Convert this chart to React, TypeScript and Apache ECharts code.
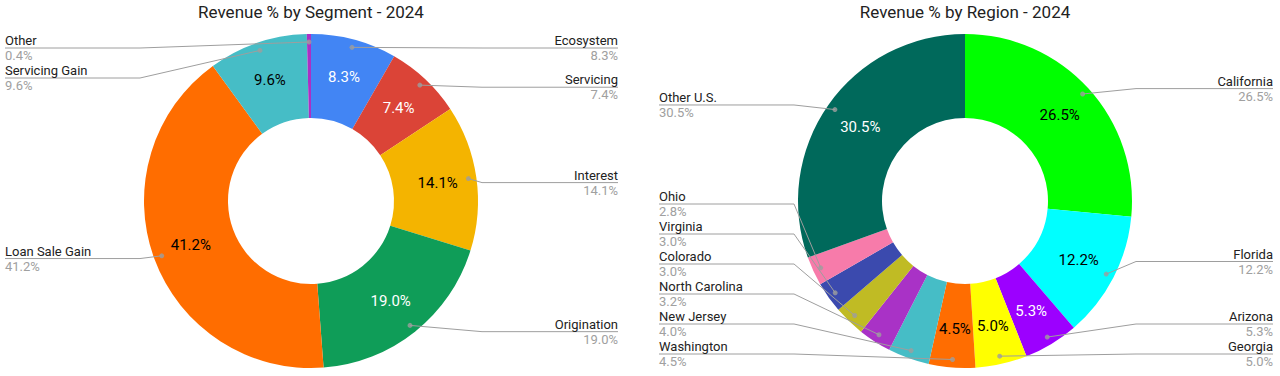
import React, { useEffect, useRef } from "react";
import * as echarts from "echarts";

// ---------- data ----------
const segmentTitle = "Revenue % by Segment - 2024";
const segmentNames = ["Ecosystem", "Servicing", "Interest", "Origination", "Loan Sale Gain", "Servicing Gain", "Other"];
const segmentValues = [8.3, 7.4, 14.1, 19.0, 41.2, 9.6, 0.4];

const regionTitle = "Revenue % by Region - 2024";
const regionNames = ["California", "Florida", "Arizona", "Georgia", "Washington", "New Jersey", "North Carolina", "Colorado", "Virginia", "Ohio", "Other U.S."];
const regionValues = [26.5, 12.2, 5.3, 5.0, 4.5, 4.0, 3.2, 3.0, 3.0, 2.8, 30.5];

// ---------- styles ----------
const segmentColors = ["#4285F4", "#DB4437", "#F4B400", "#0F9D58", "#FF6D00", "#46BDC6", "#AB30C4"];
const segmentLabelColors = ["#ffffff", "#ffffff", "#000000", "#ffffff", "#000000", "#000000", "#000000"];
const regionColors = ["#00FF00", "#00FFFF", "#9C00FF", "#FFFF00", "#FF6D01", "#46BDC6", "#A932C6", "#C0BB24", "#3B4AAE", "#F77BAA", "#00695B"];
const regionLabelColors = ["#000000", "#000000", "#ffffff", "#000000", "#000000", "#000000", "#000000", "#000000", "#ffffff", "#000000", "#ffffff"];

const FONT = "Roboto";
const R = 167;
const R0 = 83;
const DOT_R = 159;
const CY = 201;
const BOX_TOP = 33;
const BOX_H = 336;
const INSIDE_MIN = 4.5;
const LINE = "#9e9e9e";

type Cfg = {
  names: string[];
  values: number[];
  colors: string[];
  labelColors: string[];
  boxLeft: number;
  boxWidth: number;
  cx: number;
  edge: number;
};

function buildSeries(idx: number, c: Cfg) {
  const total = c.values.reduce((a, b) => a + b, 0);
  const mids: number[] = [];
  let acc = 0;
  c.values.forEach((v) => {
    mids.push(acc + v / 2);
    acc += v;
  });
  const donut = {
    type: "pie",
    z: 2,
    left: c.boxLeft,
    top: BOX_TOP,
    width: c.boxWidth,
    height: BOX_H,
    center: [c.cx - c.boxLeft, CY - BOX_TOP],
    radius: [R0, R],
    startAngle: 90,
    clockwise: true,
    silent: true,
    avoidLabelOverlap: false,
    emphasis: { disabled: true },
    label: {
      position: "inside",
      fontSize: 15,
      fontFamily: FONT,
      formatter: (p: any) => p.value.toFixed(1) + "%",
    },
    labelLine: { show: false },
    data: c.names.map((n, k) => ({
      name: n,
      value: c.values[k],
      itemStyle: { color: c.colors[k] },
      label: { show: c.values[k] >= INSIDE_MIN, color: c.labelColors[k] },
    })),
  };
  const outer = {
    type: "pie",
    z: 3,
    left: c.boxLeft,
    top: BOX_TOP,
    width: c.boxWidth,
    height: BOX_H,
    center: [c.cx - c.boxLeft, CY - BOX_TOP],
    radius: [0, DOT_R],
    startAngle: 90,
    clockwise: true,
    silent: true,
    emphasis: { disabled: true },
    itemStyle: { color: "rgba(0,0,0,0)" },
    label: {
      position: "outer",
      alignTo: "edge",
      edgeDistance: c.edge,
      fontFamily: FONT,
      formatter: (p: any) => `{n|${p.name}}\n{v|${p.value.toFixed(1)}%}`,
      rich: {
        n: { fontSize: 13, fontFamily: FONT, color: "#222222", lineHeight: 15 },
        v: { fontSize: 13, fontFamily: FONT, color: "#a0a0a0", lineHeight: 15 },
      },
    },
    labelLine: { show: true, length: 8, length2: 8, lineStyle: { color: LINE, width: 1 } },
    labelLayout: (p: any) => {
      const pts = p.labelLinePoints;
      if (!pts || pts.length < 3) return {};
      const rect = p.labelRect;
      const isLeft = rect.x + rect.width / 2 < c.cx;
      const y = rect.y + rect.height / 2;
      const elbowX = isLeft ? c.cx - R - 4 : c.cx + R + 4;
      const endX = isLeft ? rect.x : rect.x + rect.width;
      return { labelLinePoints: [pts[0], [elbowX, y], [endX, y]] };
    },
    data: c.names.map((n, k) => ({ name: n, value: c.values[k] })),
  };
  const dots = {
    type: "scatter",
    coordinateSystem: "polar",
    polarIndex: idx,
    z: 4,
    silent: true,
    symbolSize: 5,
    itemStyle: { color: LINE },
    data: mids.map((m) => [DOT_R, m]),
  };
  const polar = { center: [c.cx, CY], radius: R };
  const angleAxis = { polarIndex: idx, type: "value", min: 0, max: total, startAngle: 90, clockwise: true, show: false };
  const radiusAxis = { polarIndex: idx, type: "value", min: 0, max: R, show: false };
  return { series: [donut, outer, dots], polar, angleAxis, radiusAxis };
}

export default function App() {
  const ref = useRef<HTMLDivElement>(null);
  useEffect(() => {
    if (!ref.current) return;
    const chart = echarts.init(ref.current, null, { renderer: "svg" });
    const left = buildSeries(0, {
      names: segmentNames,
      values: segmentValues,
      colors: segmentColors,
      labelColors: segmentLabelColors,
      boxLeft: 0,
      boxWidth: 623,
      cx: 311,
      edge: 5,
    });
    const right = buildSeries(1, {
      names: regionNames,
      values: regionValues,
      colors: regionColors,
      labelColors: regionLabelColors,
      boxLeft: 655,
      boxWidth: 622,
      cx: 965,
      edge: 4,
    });
    const titleStyle = { fontFamily: FONT, fontSize: 17, fontWeight: "normal", color: "#222222" };
    chart.setOption({
      animation: false,
      backgroundColor: "#ffffff",
      title: [
        { text: segmentTitle, left: 311, top: 3, padding: 0, textAlign: "center", textStyle: titleStyle },
        { text: regionTitle, left: 965, top: 3, padding: 0, textAlign: "center", textStyle: titleStyle },
      ],
      polar: [left.polar, right.polar],
      angleAxis: [left.angleAxis, right.angleAxis],
      radiusAxis: [left.radiusAxis, right.radiusAxis],
      series: [...left.series, ...right.series],
    } as any);
    return () => chart.dispose();
  }, []);
  return (
    <div
      ref={ref}
      style={{ position: "absolute", left: 0, top: 0, width: 1280, height: 376, background: "#fff" }}
    />
  );
}
